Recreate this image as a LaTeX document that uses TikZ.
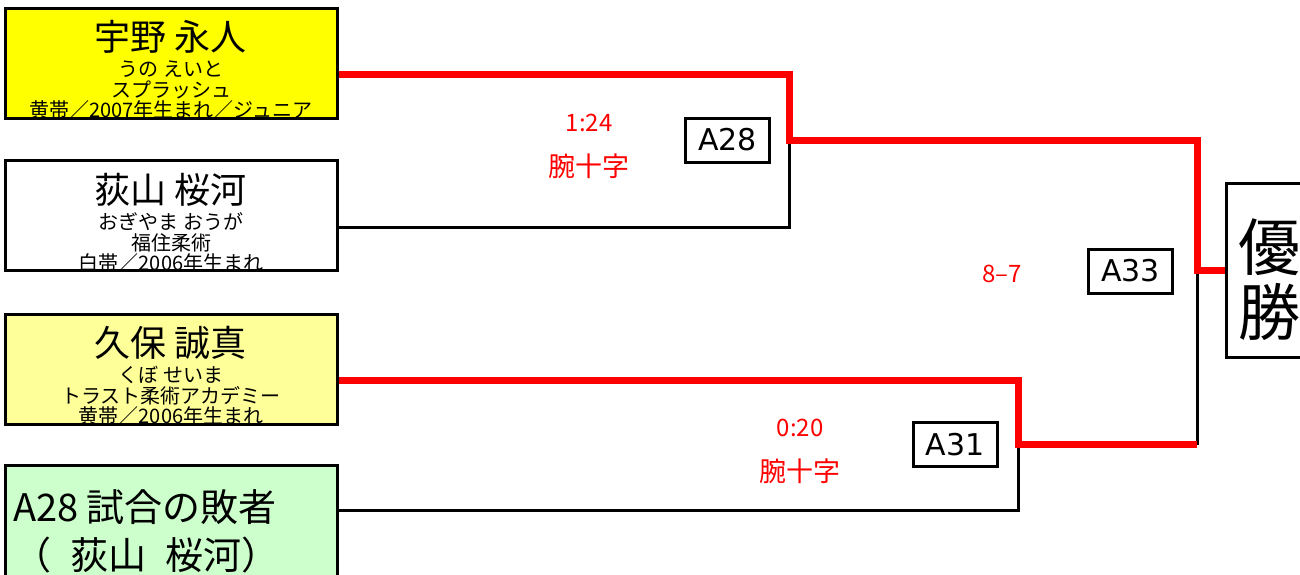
\documentclass[tikz,border=0pt]{standalone}
\usepackage{fontspec}
\setmainfont{Noto Sans CJK JP}
\newfontfamily\dejavu{DejaVu Sans}
\usepackage{tikz}
\usetikzlibrary{calc}

\definecolor{beltyellow}{HTML}{FFFF00}
\definecolor{paleyellow}{HTML}{FFFF99}
\definecolor{palegreen}{HTML}{CCFFCC}

\tikzset{
  player/.style = {draw, line width=3pt, minimum width=332pt, minimum height=110pt, inner sep=0pt},
  namefont/.style = {font=\fontsize{36}{40}\selectfont, inner sep=0pt},
  infofont/.style = {font=\fontsize{20}{20.5}\selectfont, align=center, inner sep=0pt},
  matchbox/.style = {draw, line width=3pt, fill=white, minimum width=84pt, minimum height=44pt,
                     inner sep=0pt, font=\dejavu\fontsize{30}{34}\selectfont},
  result/.style = {text=red, inner sep=0pt},
  win/.style = {red, line width=7pt},
  lose/.style = {line width=3pt},
}

\begin{document}
\begin{tikzpicture}[x=1pt, y=-1pt]
\useasboundingbox (0,0) rectangle (1300,574);

% entrants
\node[player, fill=beltyellow, path picture={
  \node[namefont] (p1-name) at ([yshift=-29pt]path picture bounding box.north) {宇野 永人};
  \node[infofont] (p1-info) at ([yshift=-82pt]path picture bounding box.north)
    {うの えいと\\スプラッシュ\\黄帯／2007年生まれ／ジュニア};
}] (p1) at (171,63) {};
\node[player, fill=white, path picture={
  \node[namefont] (p2-name) at ([yshift=-29pt]path picture bounding box.north) {荻山 桜河};
  \node[infofont] (p2-info) at ([yshift=-82pt]path picture bounding box.north)
    {おぎやま おうが\\福住柔術\\白帯／2006年生まれ};
}] (p2) at (171,215.5) {};
\node[player, fill=paleyellow, path picture={
  \node[namefont] (p3-name) at ([yshift=-29pt]path picture bounding box.north) {久保 誠真};
  \node[infofont] (p3-info) at ([yshift=-82pt]path picture bounding box.north)
    {くぼ せいま\\トラスト柔術アカデミー\\黄帯／2006年生まれ};
}] (p3) at (171,369) {};
\node[player, fill=palegreen, minimum height=130pt, path picture={
  \node[font=\fontsize{38}{48}\selectfont, align=left, inner sep=0pt] (p4-name)
    at ([xshift=141pt, yshift=-66pt]path picture bounding box.north west)
    {A28 試合の敗者\\（\hspace{0.5em}荻山\hspace{0.5em}桜河）};
}] (p4) at (171,530) {};

% champion
\node[draw, line width=3pt, fill=white, minimum width=86pt, minimum height=174pt, inner sep=0pt] (champ) at (1269,270) {};
\node[align=center, inner sep=0pt, font=\fontsize{62}{65}\selectfont] (champ-text) at (1269,280) {優\\勝};

% merge points
\coordinate (m28) at (789,140);
\coordinate (m31) at (1018,444.5);
\coordinate (m33) at (1197,270);

% bracket lines
\draw[lose] ([yshift=-11.5pt]p2.east) -| (m28);
\draw[lose] ([yshift=20pt]p4.east) -| (m31);
\draw[lose] (m31 -| m33) -- (m33);
\draw[win] ([yshift=-11pt]p1.east) -| (m28) -| (m33) -- (champ.west);
\draw[win] ([yshift=-11pt]p3.east) -| (m31) -- (m31 -| m33);

% match labels
\node[matchbox] (a28) at (727.5,140) {A28};
\node[matchbox] (a31) at (955,444.5) {A31};
\node[matchbox] (a33) at (1130.5,271) {A33};

% results
\node[result, font=\fontsize{24}{28}\selectfont] (r28time) at (589,123) {1:24};
\node[result, font=\fontsize{27}{30}\selectfont] (r28tech) at (589,166) {腕十字};
\node[result, font=\fontsize{24}{28}\selectfont] (r31time) at (800,428) {0:20};
\node[result, font=\fontsize{27}{30}\selectfont] (r31tech) at (800,471) {腕十字};
\node[result, font=\fontsize{24}{28}\selectfont] (r33score) at (1002,274) {8–7};
\end{tikzpicture}
\end{document}
